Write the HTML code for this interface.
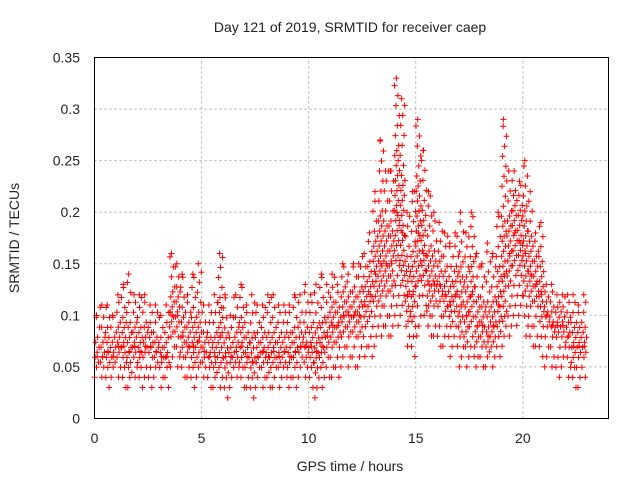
<!DOCTYPE html>
<html><head><meta charset="utf-8"><style>
body{margin:0;background:#fff}
svg{display:block}
text{font-family:"Liberation Sans",sans-serif;font-size:14px;fill:#222}
</style></head><body>
<svg id="chart" width="640" height="480">
<text x="350" y="32" text-anchor="middle">Day 121 of 2019, SRMTID for receiver caep</text>
<text x="350" y="471" text-anchor="middle">GPS time / hours</text>
<text transform="translate(19,238) rotate(-90)" text-anchor="middle">SRMTID / TECUs</text>
<g id="grid"></g>
<g id="marks"></g>
<rect x="94.5" y="57.5" width="514" height="361" fill="none" stroke="#000"/>
<g id="ticks"></g>
</svg>
<script>
const xTicks=[0,5,10,15,20];
const yTicks=[0,0.05,0.1,0.15,0.2,0.25,0.3,0.35];
const yTickLabels=["0","0.05","0.1","0.15","0.2","0.25","0.3","0.35"];
const timeStep=0.25;
const lowVals=[.04,.04,.03,.04,.04,.03,.03,.04,.03,.04,.03,.04,.03,.03,.05,.05,.04,.04,.03,.04,.04,.03,.03,.03,.02,.03,.04,.03,.03,.02,.03,.03,.03,.03,.03,.04,.03,.03,.04,.04,.03,.02,.03,.04,.04,.04,.05,.05,.05,.05,.06,.06,.07,.08,.08,.08,.09,.1,.07,.06,.08,.1,.08,.08,.07,.07,.06,.07,.05,.05,.06,.05,.05,.05,.05,.06,.07,.08,.09,.1,.08,.07,.07,.06,.05,.05,.04,.05,.04,.03,.03,.04];
const midVals=[.06,.06,.065,.06,.07,.07,.065,.07,.065,.07,.07,.065,.06,.06,.1,.1,.08,.07,.07,.075,.065,.06,.06,.08,.06,.06,.065,.07,.06,.055,.06,.065,.06,.065,.06,.065,.06,.065,.07,.07,.07,.065,.07,.08,.09,.09,.1,.1,.1,.1,.11,.12,.14,.15,.15,.15,.2,.18,.12,.12,.18,.16,.13,.13,.13,.12,.11,.12,.11,.1,.12,.09,.09,.08,.09,.11,.14,.16,.18,.17,.16,.14,.13,.12,.1,.09,.09,.09,.08,.07,.07,.07];
const highVals=[.1,.11,.11,.1,.12,.13,.14,.12,.12,.12,.11,.11,.1,.11,.16,.15,.14,.12,.14,.15,.11,.11,.12,.16,.12,.1,.12,.13,.11,.12,.11,.11,.12,.12,.11,.11,.11,.12,.12,.13,.12,.13,.14,.13,.14,.13,.15,.14,.15,.15,.16,.18,.22,.27,.24,.24,.33,.31,.2,.22,.29,.26,.22,.2,.19,.18,.17,.18,.2,.18,.2,.16,.15,.17,.16,.2,.29,.24,.24,.23,.25,.22,.18,.19,.13,.13,.12,.12,.12,.12,.11,.12];
const X0=94.5,X1=608.5,XMAX=24,Y0=418.5,Y1=57.5,YMAX=0.35;
const xs=v=>X0+(X1-X0)*v/XMAX, ys=v=>Y0-(Y0-Y1)*v/YMAX;
const NS="http://www.w3.org/2000/svg";
function mk(tag,attrs,parent){const e=document.createElementNS(NS,tag);for(const k in attrs)e.setAttribute(k,attrs[k]);parent.appendChild(e);return e;}
const grid=document.getElementById('grid'),ticks=document.getElementById('ticks'),marks=document.getElementById('marks');
xTicks.forEach(t=>{const x=xs(t);
 if(t>0){const g=mk('line',{x1:x,x2:x,y1:Y0,y2:Y1,stroke:'#aaa','stroke-dasharray':'2,3'},grid);
 
 }
 const l=mk('text',{x:x,y:443,'text-anchor':'middle'},ticks);l.textContent=t;
 
 
});
yTicks.forEach((t,i)=>{const y=ys(t);
 if(t>0&&t<YMAX){const g=mk('line',{x1:X0,x2:X1,y1:y,y2:y,stroke:'#aaa','stroke-dasharray':'2,3'},grid);
 
 }
 const l=mk('text',{x:80,y:y+5,'text-anchor':'end'},ticks);l.textContent=yTickLabels[i];
 
 
});
let d='';
function cross(x,y){d+=`M${x-3},${y}h6M${x},${y-3}v6`;}
lowVals.forEach((lo,i)=>{
 const t=i*timeStep, hi=highVals[i], mid=midVals[i];
 const xa=xs(t), xb=xs(t+timeStep);
 const yl=ys(lo), yh=ys(hi), ym=ys(mid);
 let k=i;
 for(let y=yl;y>=yh;y-=(Math.abs(y-ym)<(yl-yh)/4?5:10)){
   const x=xa+((k*2.37)%1)*(xb-xa);k++;
   cross(x,y);
 }
 cross(xa+2,yh);cross((xa+xb)/2,ym);
});
const p=mk('path',{d:d,stroke:'#f00','stroke-width':1,fill:'none'},marks);


</script>
</body></html>
